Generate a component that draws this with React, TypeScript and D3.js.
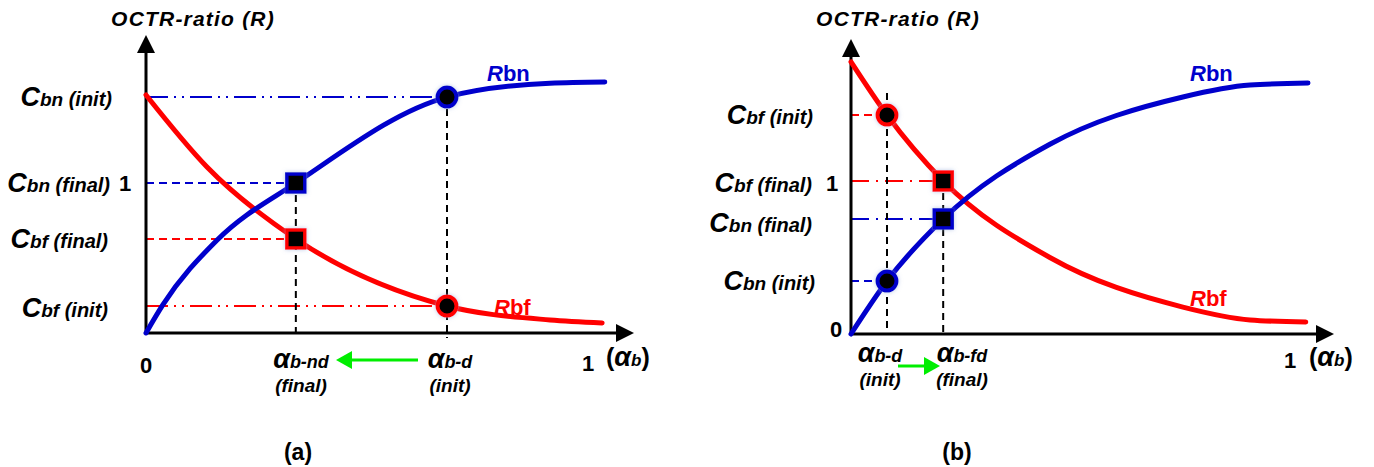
import React from "react";
import * as d3 from "d3";

// ---------- data (value space: x = alpha_b, y = OCTR ratio) ----------
const rbnA: [number, number][] = [[0,0],[0.038,0.187],[0.161,0.62],[0.339,1.0],[0.681,1.573],[0.914,1.665],[1.038,1.673]];
const rbfA: [number, number][] = [[0,1.587],[0.138,1.107],[0.339,0.627],[0.681,0.18],[0.914,0.087],[1.032,0.067]];
const markersA = { bnInit: [0.681, 1.573], bnFinal: [0.339, 1.0], bfFinal: [0.339, 0.627], bfInit: [0.681, 0.18] };

const rbnB: [number, number][] = [[0,0],[0.082,0.346],[0.21,0.752],[0.453,1.24],[0.756,1.549],[0.909,1.627],[1.041,1.64]];
const rbfB: [number, number][] = [[0,1.778],[0.082,1.431],[0.21,1.0],[0.453,0.5],[0.756,0.176],[0.909,0.092],[1.036,0.078]];
const markersB = { bfInit: [0.082, 1.431], bfFinal: [0.21, 1.0], bnFinal: [0.21, 0.752], bnInit: [0.082, 0.346] };

const tickLabelsA = { yOne: "1", xZero: "0", xOne: "1" };
const tickLabelsB = { yOne: "1", yZero: "0", xOne: "1" };

const BLUE = "#0000CC";
const RED = "#FF0000";
const GREEN = "#00EE00";
const FONT = "'Liberation Sans', Arial, Helvetica, sans-serif";
const DASH = "8 5";
const DASHDOTDOT = "22 6 2 6 2 6";
const DASHDOT = "18 7 2 7";

function CLabel({ x, y, sub, suffix }: { x: number; y: number; sub: string; suffix: string }) {
  return (
    <text x={x} y={y} textAnchor="end" fontFamily={FONT} fontWeight="bold" fontStyle="italic" fill="#000">
      <tspan fontSize={27}>C</tspan>
      <tspan fontSize={19}>{sub}</tspan>
      <tspan fontSize={20}>{" " + suffix}</tspan>
    </text>
  );
}

function AlphaLabel({ x, y, sub, second }: { x: number; y: number; sub: string; second: string }) {
  return (
    <g fontFamily={FONT} fontWeight="bold" fontStyle="italic" fill="#000">
      <text x={x} y={y} textAnchor="middle">
        <tspan fontSize={27}>α</tspan>
        <tspan fontSize={18}>{sub}</tspan>
      </text>
      <text x={x} y={y + 24} textAnchor="middle" fontSize={19}>{second}</text>
    </g>
  );
}

function RLabel({ x, y, sub, color }: { x: number; y: number; sub: string; color: string }) {
  return (
    <text x={x} y={y} fontFamily={FONT} fontWeight="bold" fontSize={22} fill={color}>
      <tspan fontStyle="italic">R</tspan>
      <tspan>{sub}</tspan>
    </text>
  );
}

function Arrowhead({ x, y, dir, len = 18, half = 9, color = "#000" }: any) {
  let pts = "";
  if (dir === "up") pts = `${x},${y} ${x - half},${y + len} ${x + half},${y + len}`;
  if (dir === "right") pts = `${x},${y} ${x - len},${y - half} ${x - len},${y + half}`;
  if (dir === "left") pts = `${x},${y} ${x + len},${y - half} ${x + len},${y + half}`;
  return <polygon points={pts} fill={color} />;
}

function Square({ cx, cy, color }: { cx: number; cy: number; color: string }) {
  const s = 18;
  return <rect x={cx - s / 2} y={cy - s / 2} width={s} height={s} fill="#000" stroke={color} strokeWidth={3.5} filter="url(#glow)" />;
}
function Circle({ cx, cy, color }: { cx: number; cy: number; color: string }) {
  return <circle cx={cx} cy={cy} r={9.5} fill="#000" stroke={color} strokeWidth={4} filter="url(#glow)" />;
}

function AlphaAxis({ x, y }: { x: number; y: number }) {
  return (
    <text x={x} y={y} fontFamily={FONT} fontWeight="bold" fill="#000">
      <tspan fontSize={25}>(</tspan><tspan fontSize={27} fontStyle="italic">α</tspan><tspan fontSize={17} fontStyle="italic">b</tspan><tspan fontSize={25}>)</tspan>
    </text>
  );
}

function Title({ x }: { x: number }) {
  return <text x={x} y={26} textAnchor="middle" fontFamily={FONT} fontWeight="bold" fontStyle="italic" fontSize={21} letterSpacing={1.2}>OCTR-ratio (R)</text>;
}

function Num({ x, y, t }: { x: number; y: number; t: string }) {
  return <text x={x} y={y} textAnchor="middle" fontFamily={FONT} fontWeight="bold" fontSize={22}>{t}</text>;
}

function PanelA() {
  const x = d3.scaleLinear().domain([0, 1]).range([146, 588]);
  const y = d3.scaleLinear().domain([0, 1]).range([333, 183]);
  const line = d3.line<[number, number]>().x(d => x(d[0])).y(d => y(d[1])).curve(d3.curveMonotoneX);
  const m = markersA;
  const ox = x(0), oy = y(0);
  return (
    <g>
      <Title x={193} />
      {/* guide lines */}
      <line x1={ox} x2={x(m.bnInit[0])} y1={y(m.bnInit[1])} y2={y(m.bnInit[1])} stroke={BLUE} strokeWidth={2} strokeDasharray={DASHDOTDOT} />
      <line x1={ox} x2={x(m.bnFinal[0])} y1={y(m.bnFinal[1])} y2={y(m.bnFinal[1])} stroke={BLUE} strokeWidth={2} strokeDasharray={DASH} />
      <line x1={ox} x2={x(m.bfFinal[0])} y1={y(m.bfFinal[1])} y2={y(m.bfFinal[1])} stroke={RED} strokeWidth={2} strokeDasharray={DASH} />
      <line x1={ox} x2={x(m.bfInit[0])} y1={y(m.bfInit[1])} y2={y(m.bfInit[1])} stroke={RED} strokeWidth={2} strokeDasharray={DASHDOTDOT} />
      <line x1={x(m.bnFinal[0])} x2={x(m.bnFinal[0])} y1={y(m.bnFinal[1])} y2={oy + 4} stroke="#000" strokeWidth={2} strokeDasharray="7 5" />
      <line x1={x(m.bnInit[0])} x2={x(m.bnInit[0])} y1={y(m.bnInit[1])} y2={oy + 5} stroke="#000" strokeWidth={2} strokeDasharray="7 5" />
      {/* axes */}
      <line x1={ox} x2={ox} y1={oy} y2={50} stroke="#000" strokeWidth={3} />
      <Arrowhead x={ox} y={35} dir="up" />
      <line x1={ox} x2={618} y1={oy} y2={oy} stroke="#000" strokeWidth={3} />
      <Arrowhead x={634} y={oy} dir="right" />
      {/* curves */}
      <path d={line(rbfA) || ""} fill="none" stroke={RED} strokeWidth={5} strokeLinecap="round" />
      <path d={line(rbnA) || ""} fill="none" stroke={BLUE} strokeWidth={5} strokeLinecap="round" />
      {/* markers */}
      <Circle cx={x(m.bnInit[0])} cy={y(m.bnInit[1])} color={BLUE} />
      <Square cx={x(m.bnFinal[0])} cy={y(m.bnFinal[1])} color={BLUE} />
      <Square cx={x(m.bfFinal[0])} cy={y(m.bfFinal[1])} color={RED} />
      <Circle cx={x(m.bfInit[0])} cy={y(m.bfInit[1])} color={RED} />
      {/* labels */}
      <CLabel x={112} y={y(m.bnInit[1]) + 9} sub="bn" suffix="(init)" />
      <CLabel x={110} y={y(m.bnFinal[1]) + 9} sub="bn" suffix="(final)" />
      <CLabel x={108} y={y(m.bfFinal[1]) + 9} sub="bf" suffix="(final)" />
      <CLabel x={108} y={y(m.bfInit[1]) + 11} sub="bf" suffix="(init)" />
      <Num x={125} y={y(1) + 8} t={tickLabelsA.yOne} />
      <Num x={ox} y={373} t={tickLabelsA.xZero} />
      <AlphaLabel x={301} y={368} sub="b-nd" second="(final)" />
      <AlphaLabel x={450} y={368} sub="b-d" second="(init)" />
      <line x1={418} x2={348} y1={360} y2={360} stroke={GREEN} strokeWidth={3} />
      <Arrowhead x={336} y={360} dir="left" len={16} half={9} color={GREEN} />
      <Num x={x(1)} y={371} t={tickLabelsA.xOne} />
      <AlphaAxis x={606} y={366} />
      <RLabel x={487} y={81} sub="bn" color={BLUE} />
      <RLabel x={494} y={315} sub="bf" color={RED} />
      <text x={298} y={460} textAnchor="middle" fontFamily={FONT} fontWeight="bold" fontSize={23}>(a)</text>
    </g>
  );
}

function PanelB() {
  const x = d3.scaleLinear().domain([0, 1]).range([851, 1290]);
  const y = d3.scaleLinear().domain([0, 1]).range([334, 181]);
  const line = d3.line<[number, number]>().x(d => x(d[0])).y(d => y(d[1])).curve(d3.curveMonotoneX);
  const m = markersB;
  const ox = x(0), oy = y(0);
  return (
    <g>
      <Title x={898} />
      <line x1={ox} x2={x(m.bfInit[0])} y1={y(m.bfInit[1])} y2={y(m.bfInit[1])} stroke={RED} strokeWidth={2} strokeDasharray={DASH} />
      <line x1={ox} x2={x(m.bfFinal[0])} y1={y(m.bfFinal[1])} y2={y(m.bfFinal[1])} stroke={RED} strokeWidth={2} strokeDasharray={DASHDOT} />
      <line x1={ox} x2={x(m.bnFinal[0])} y1={y(m.bnFinal[1])} y2={y(m.bnFinal[1])} stroke={BLUE} strokeWidth={2} strokeDasharray={DASHDOT} />
      <line x1={ox} x2={x(m.bnInit[0])} y1={y(m.bnInit[1])} y2={y(m.bnInit[1])} stroke={BLUE} strokeWidth={2} strokeDasharray={DASH} />
      <line x1={x(m.bfInit[0])} x2={x(m.bfInit[0])} y1={93} y2={oy} stroke="#000" strokeWidth={2} strokeDasharray="7 5" />
      <line x1={x(m.bfFinal[0])} x2={x(m.bfFinal[0])} y1={y(m.bfFinal[1])} y2={oy} stroke="#000" strokeWidth={2} strokeDasharray="7 5" />
      <line x1={ox} x2={ox} y1={oy} y2={54} stroke="#000" strokeWidth={3} />
      <Arrowhead x={ox} y={39} dir="up" />
      <line x1={ox} x2={1318} y1={oy} y2={oy} stroke="#000" strokeWidth={3} />
      <Arrowhead x={1334} y={oy} dir="right" />
      <path d={line(rbfB) || ""} fill="none" stroke={RED} strokeWidth={5} strokeLinecap="round" />
      <path d={line(rbnB) || ""} fill="none" stroke={BLUE} strokeWidth={5} strokeLinecap="round" />
      <Circle cx={x(m.bfInit[0])} cy={y(m.bfInit[1])} color={RED} />
      <Square cx={x(m.bfFinal[0])} cy={y(m.bfFinal[1])} color={RED} />
      <Square cx={x(m.bnFinal[0])} cy={y(m.bnFinal[1])} color={BLUE} />
      <Circle cx={x(m.bnInit[0])} cy={y(m.bnInit[1])} color={BLUE} />
      <CLabel x={813} y={y(m.bfInit[1]) + 9} sub="bf" suffix="(init)" />
      <CLabel x={812} y={y(m.bfFinal[1]) + 11} sub="bf" suffix="(final)" />
      <CLabel x={812} y={y(m.bnFinal[1]) + 13} sub="bn" suffix="(final)" />
      <CLabel x={815} y={y(m.bnInit[1]) + 9} sub="bn" suffix="(init)" />
      <Num x={832} y={y(1) + 10} t={tickLabelsB.yOne} />
      <Num x={836} y={oy + 3} t={tickLabelsB.yZero} />
      <AlphaLabel x={880} y={362} sub="b-d" second="(init)" />
      <AlphaLabel x={962} y={362} sub="b-fd" second="(final)" />
      <line x1={898} x2={926} y1={366} y2={366} stroke={GREEN} strokeWidth={3} />
      <Arrowhead x={940} y={366} dir="right" len={16} half={9} color={GREEN} />
      <Num x={x(1)} y={368} t={tickLabelsB.xOne} />
      <AlphaAxis x={1309} y={366} />
      <RLabel x={1190} y={81} sub="bn" color={BLUE} />
      <RLabel x={1190} y={306} sub="bf" color={RED} />
      <text x={957} y={460} textAnchor="middle" fontFamily={FONT} fontWeight="bold" fontSize={23}>(b)</text>
    </g>
  );
}

export default function App() {
  return (
    <svg width={1374} height={467} style={{ position: "absolute", left: 0, top: 0, background: "#fff" }}>
      <defs>
        <filter id="glow" x="-50%" y="-50%" width="200%" height="200%">
          <feDropShadow dx="0" dy="0" stdDeviation="2" floodColor="#8fa8d8" floodOpacity="0.6" />
        </filter>
      </defs>
      <rect width={1374} height={467} fill="#fff" />
      <PanelA />
      <PanelB />
    </svg>
  );
}
